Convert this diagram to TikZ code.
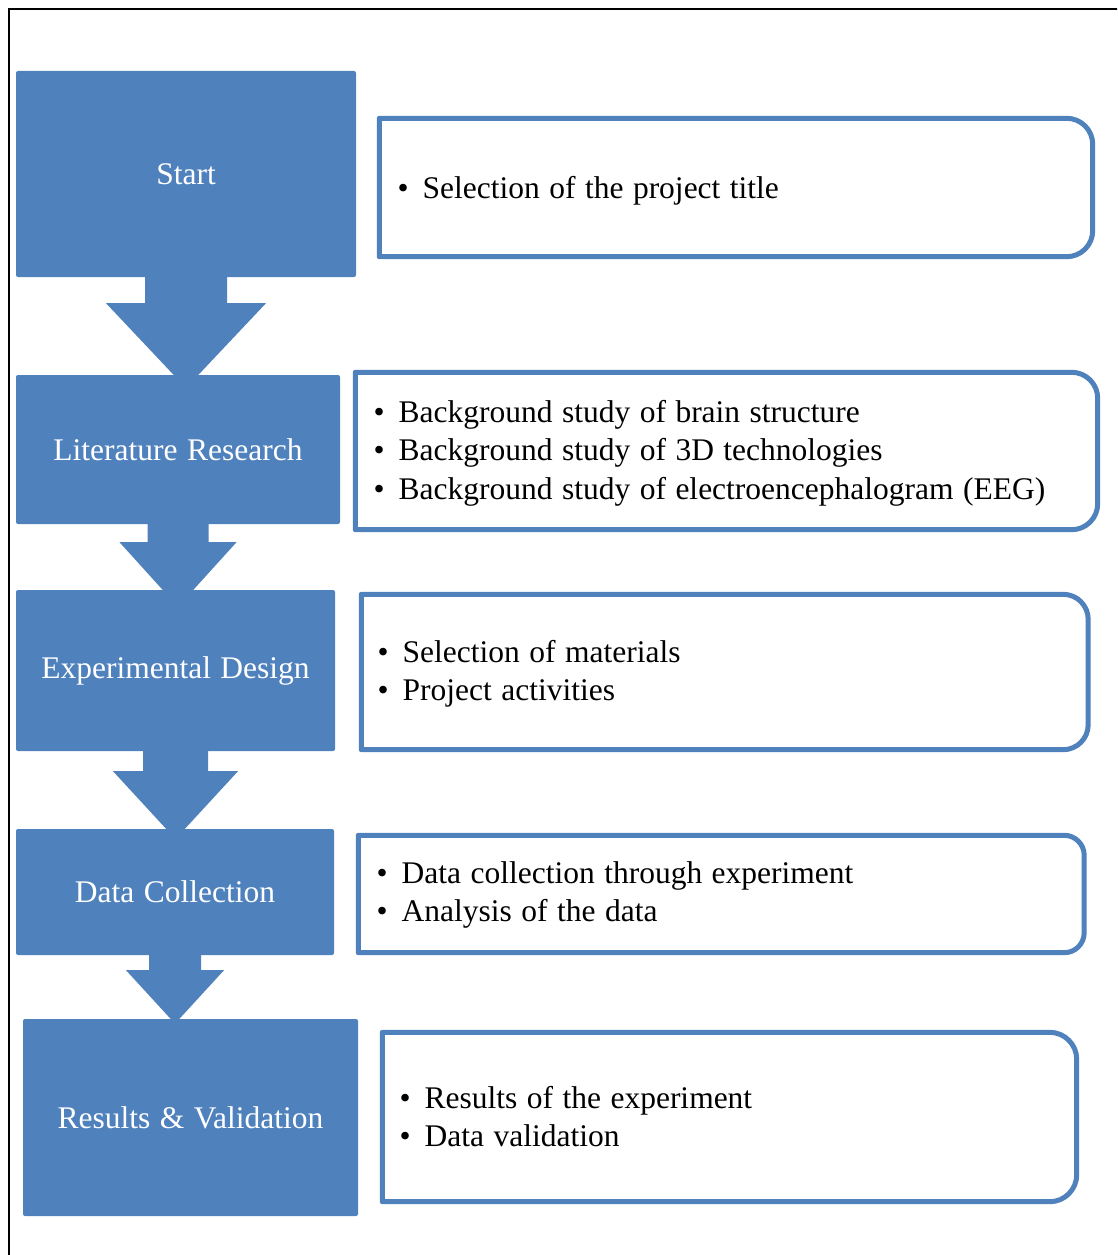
\documentclass[tikz,border=0pt]{standalone}
\usepackage{fontspec}
\setmainfont{Liberation Serif}[WordSpace=1.2]
\usetikzlibrary{calc}
\definecolor{accent}{HTML}{4F81BD}
\newcommand\bitem{\makebox[25pt][l]{•}}
\newcommand\blockarrow[6]{%
  \fill[flowarrow] ($(#1.south)+(-#3,-1)$) -- ($(#1.south)+(-#3,#4)$) -- ($(#1.south)+(-#5,#4)$)
    -- ($(#1.south |- #2.north)+(-#6,1)$) -- ($(#1.south |- #2.north)+(#6,1)$)
    -- ($(#1.south)+(#5,#4)$) -- ($(#1.south)+(#3,#4)$) -- ($(#1.south)+(#3,-1)$) -- cycle;}
\newcommand\rframe[2]{%
  \draw[frameline] (#1.north west) -- ($(#1.north east)+(-#2,0)$)
    .. controls ($(#1.north east)+(-0.448*#2,0)$) and ($(#1.north east)+(0,0.448*#2)$) .. ($(#1.north east)+(0,#2)$)
    -- ($(#1.south east)+(0,-#2)$)
    .. controls ($(#1.south east)+(0,-0.448*#2)$) and ($(#1.south east)+(-0.448*#2,0)$) .. ($(#1.south east)+(-#2,0)$)
    -- (#1.south west) -- cycle;}
\begin{document}
\begin{tikzpicture}[x=1pt,y=-1pt,
  stagebox/.style={fill=accent, draw=none, rounded corners=2pt, inner sep=0pt, text=white,
    font=\fontsize{31.5}{38.5}\selectfont},
  framebox/.style={draw=none, inner sep=0pt},
  frameline/.style={draw=accent, line width=5pt, line join=round},
  listtext/.style={inner sep=0pt, anchor=base west, font=\fontsize{31.5}{38.5}\selectfont},
  flowarrow/.style={fill=accent, draw=none}]
\useasboundingbox (0,0) rectangle (1117,1255);
\clip (0,0) rectangle (1117,1255);
\fill[white] (0,0) rectangle (1117,1255);
\draw[line width=2pt] (9,1260) -- (9,9) -- (1122,9);

% stage boxes
\node[stagebox, minimum width=340pt, minimum height=206pt] (s1) at (186,174) {Start};
\node[stagebox, minimum width=324pt, minimum height=149pt] (s2) at (178,449.5) {Literature Research};
\node[stagebox, minimum width=319pt, minimum height=161pt] (s3) at (175.5,670.5) {\raisebox{-3pt}{Experimental Design}};
\node[stagebox, minimum width=318pt, minimum height=126pt] (s4) at (175,892) {Data Collection};
\node[stagebox, minimum width=335pt, minimum height=197pt] (s5) at (190.5,1117.5) {Results \& Validation};

% block arrows
\blockarrow{s1}{s2}{41}{26}{80}{11.5}
\blockarrow{s2}{s3}{30.5}{18}{58.5}{14.5}
\blockarrow{s3}{s4}{32.5}{20}{62.5}{8.5}
\blockarrow{s4}{s5}{26}{15}{49}{3.5}

% right frames
\node[framebox, minimum width=713pt, minimum height=138pt] (r1) at (736,187.5) {};
\node[framebox, minimum width=742pt, minimum height=157pt] (r2) at (726.5,451) {};
\node[framebox, minimum width=726.5pt, minimum height=155pt] (r3) at (724.75,672) {};
\node[framebox, minimum width=725.5pt, minimum height=117pt] (r4) at (721.25,894) {};
\node[framebox, minimum width=694pt, minimum height=169pt] (r5) at (729.5,1117) {};
\rframe{r1}{26}
\rframe{r2}{26}
\rframe{r3}{25}
\rframe{r4}{20}
\rframe{r5}{27}

% list texts
\node[listtext] (t1) at (397.5,198) {\begin{tabular}[t]{@{}l@{}}\bitem Selection of the project title\end{tabular}};
\node[listtext] (t2) at (373.5,422) {\begin{tabular}[t]{@{}l@{}}\bitem Background study of brain structure\\
  \bitem Background study of 3D technologies\\
  \bitem Background study of electroencephalogram (EEG)\end{tabular}};
\node[listtext] (t3) at (377.5,662) {\begin{tabular}[t]{@{}l@{}}\bitem Selection of materials\\
  \bitem Project activities\end{tabular}};
\node[listtext] (t4) at (376.5,883) {\begin{tabular}[t]{@{}l@{}}\bitem Data collection through experiment\\
  \bitem Analysis of the data\end{tabular}};
\node[listtext] (t5) at (399.5,1108) {\begin{tabular}[t]{@{}l@{}}\bitem Results of the experiment\\
  \bitem Data validation\end{tabular}};
\end{tikzpicture}
\end{document}
